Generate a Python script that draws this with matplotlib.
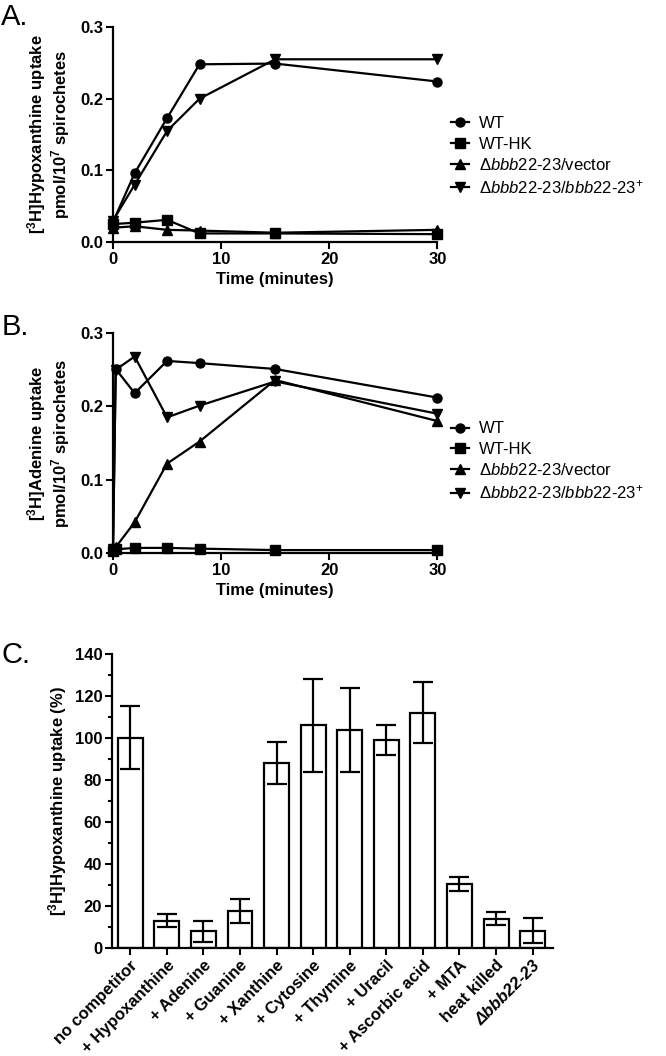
import numpy as np
import matplotlib
matplotlib.use("Agg")
import matplotlib.pyplot as plt

plt.rcParams['font.family'] = ['Liberation Sans', 'DejaVu Sans']
plt.rcParams['mathtext.fontset'] = 'custom'
plt.rcParams['mathtext.rm'] = 'Liberation Sans'
plt.rcParams['mathtext.it'] = 'Liberation Sans:italic'
plt.rcParams['mathtext.bf'] = 'Liberation Sans:bold'

# Panel A : hypoxanthine uptake
time_a = [0, 2, 5, 8, 15, 30]
a_wt = [0.028, 0.096, 0.173, 0.248, 0.249, 0.224]
a_hk = [0.025, 0.027, 0.031, 0.012, 0.012, 0.011]
a_vec = [0.020, 0.022, 0.017, 0.016, 0.013, 0.017]
a_comp = [0.030, 0.080, 0.155, 0.200, 0.255, 0.255]

# Panel B : adenine uptake
time_b = [0, 0.25, 2, 5, 8, 15, 30]
b_wt = [0.005, 0.251, 0.218, 0.262, 0.259, 0.251, 0.212]
b_hk = [0.003, 0.005, 0.007, 0.007, 0.006, 0.004, 0.004]
b_vec = [0.004, 0.008, 0.042, 0.122, 0.152, 0.236, 0.180]
b_comp = [0.005, 0.250, 0.268, 0.185, 0.201, 0.234, 0.190]

# Panel C : competition
comp_labels = ['no competitor', '+ Hypoxanthine', '+ Adenine', '+ Guanine', '+ Xanthine',
               '+ Cytosine', '+ Thymine', '+ Uracil', '+ Ascorbic acid', '+ MTA',
               'heat killed', 'Δbbb22-23']
comp_vals = [100, 13, 8, 17.5, 88, 106, 104, 99, 112, 30.5, 14, 8.3]
comp_err = [15, 3, 5, 5.7, 10, 22, 20, 7, 14.6, 3.5, 3, 6]

leg_labels = ['WT', 'WT-HK', r'$\Delta\mathit{bbb22}$-$\mathit{23}$/vector',
              r'$\Delta\mathit{bbb22}$-$\mathit{23/bbb22}$-$\mathit{23}^{+}$']
markers = ['o', 's', '^', 'v']

fig = plt.figure(figsize=(6.66, 10.56), dpi=100)

def style_axes(ax):
    for s in ['top', 'right']:
        ax.spines[s].set_visible(False)
    for s in ['left', 'bottom']:
        ax.spines[s].set_linewidth(1.6)
    ax.tick_params(width=1.5, length=5, labelsize=12, pad=2)
    for lab in ax.get_xticklabels() + ax.get_yticklabels():
        lab.set_fontweight('bold')

def line_panel(rect, t, series, ylabel, leg_y):
    ax = fig.add_axes(rect)
    handles = []
    for ys, m in zip(series, markers):
        h, = ax.plot(t, ys, color='black', marker=m, markersize=6.5, linewidth=1.6, clip_on=False)
        handles.append(h)
    ax.set_xlim(0, 30)
    ax.set_ylim(0, 0.3)
    ax.set_xticks([0, 10, 20, 30])
    ax.set_yticks([0, 0.1, 0.2, 0.3])
    ax.set_yticklabels(['0.0', '0.1', '0.2', '0.3'])
    ax.set_xlabel('Time (minutes)', fontsize=12, fontweight='bold', labelpad=4)
    ax.set_ylabel(ylabel, fontsize=12, fontweight='bold', labelpad=6, linespacing=1.05)
    style_axes(ax)
    leg = ax.legend(handles, leg_labels, loc='center left', bbox_to_anchor=(0.664, leg_y),
                    bbox_transform=fig.transFigure, frameon=False, fontsize=12,
                    handlelength=1.1, handletextpad=0.6, labelspacing=0.32, borderpad=0)
    return ax

line_panel([0.1697, 0.7708, 0.487, 0.2036], time_a, [a_wt, a_hk, a_vec, a_comp],
           r'[$^{\mathbf{3}}$H]Hypoxanthine uptake' + '\n' + r'pmol/10$^{\mathbf{7}}$ spirochetes', 0.852)
line_panel([0.1697, 0.4763, 0.487, 0.2083], time_b, [b_wt, b_hk, b_vec, b_comp],
           r'[$^{\mathbf{3}}$H]Adenine uptake' + '\n' + r'pmol/10$^{\mathbf{7}}$ spirochetes', 0.563)

# Panel C
axc = fig.add_axes([0.168, 0.1023, 0.662, 0.2784])
x = np.arange(len(comp_vals))
axc.bar(x, comp_vals, width=0.68, color='white', edgecolor='black', linewidth=1.6)
axc.errorbar(x, comp_vals, yerr=comp_err, fmt='none', ecolor='black', elinewidth=1.6,
             capsize=7, capthick=1.6)
axc.set_xlim(-0.5, 11.55)
axc.set_ylim(0, 140)
axc.set_yticks(np.arange(0, 141, 20))
axc.set_yticks(np.arange(10, 140, 20), minor=True)
axc.tick_params(which='minor', width=1.5, length=3)
axc.set_xticks(x)
axc.set_xticklabels(comp_labels)
axc.set_ylabel(r'[$^{\mathbf{3}}$H]Hypoxanthine uptake (%)', fontsize=12, fontweight='bold', labelpad=4)
style_axes(axc)
for lab in axc.get_xticklabels():
    lab.set_rotation(45)
    lab.set_ha('right')
    lab.set_rotation_mode('anchor')
axc.get_xticklabels()[-1].set_fontstyle('italic')

fig.text(0.002, 0.984, 'A.', fontsize=21, va='center')
fig.text(0.002, 0.690, 'B.', fontsize=21, va='center')
fig.text(0.002, 0.380, 'C.', fontsize=21, va='center')

fig.savefig('out.png', dpi=100)
